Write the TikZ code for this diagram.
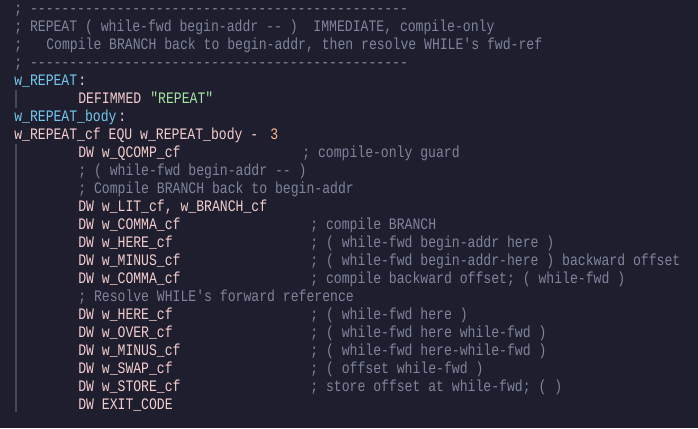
\documentclass[tikz,border=0pt]{standalone}
\usepackage{fontspec}
\setmonofont[FakeStretch=0.82]{Liberation Mono}
\definecolor{bg}{HTML}{1E1E2E}
\definecolor{cmt}{HTML}{7F849C}
\definecolor{lbl}{HTML}{74C7EC}
\definecolor{txt}{HTML}{F2CDCD}
\definecolor{str}{HTML}{A6E3A1}
\definecolor{num}{HTML}{FAB387}
\definecolor{pun}{HTML}{CDD6F4}
\definecolor{guide}{HTML}{45475A}
\tikzset{code/.style={anchor=base west,inner sep=0pt,font=\ttfamily\fontsize{12pt}{13.5pt}\selectfont}}
\newcommand{\seg}[5]{\node[code,text=#3] (#1) at ({10.5pt+#4*6pt},{-(13.5+18*#2)*0.75pt}) {#5};}
\begin{document}
\begin{tikzpicture}
\fill[bg] (0,0) rectangle (523.5pt,-321pt);
\useasboundingbox (0,0) rectangle (523.5pt,-321pt);
\draw[guide,line width=0.8pt] (12pt,-67.5pt) -- (12pt,-81pt);
\draw[guide,line width=0.8pt] (12pt,-108pt) -- (12pt,-309pt);
\seg{a0}{0}{cmt}{0}{; ------------------------------------------------}
\seg{a1}{1}{cmt}{0}{; REPEAT ( while-fwd begin-addr -- )\ \ IMMEDIATE, compile-only}
\seg{a2}{2}{cmt}{0}{;}
\seg{a2b}{2}{cmt}{4}{Compile BRANCH back to begin-addr, then resolve WHILE's fwd-ref}
\seg{a3}{3}{cmt}{0}{; ------------------------------------------------}
\seg{a4}{4}{lbl}{0}{w\_REPEAT}
\seg{a4c}{4}{pun}{8}{:}
\seg{a5}{5}{txt}{8}{DEFIMMED}
\seg{a5s}{5}{str}{17}{"REPEAT"}
\seg{a6}{6}{lbl}{0}{w\_REPEAT\_body}
\seg{a6c}{6}{pun}{13}{:}
\seg{a7}{7}{txt}{0}{w\_REPEAT\_cf EQU w\_REPEAT\_body -}
\seg{a7n}{7}{num}{32}{3}
\seg{a8}{8}{txt}{8}{DW w\_QCOMP\_cf}
\seg{a8c}{8}{cmt}{36}{; compile-only guard}
\seg{a9}{9}{cmt}{8}{; ( while-fwd begin-addr -- )}
\seg{a10}{10}{cmt}{8}{; Compile BRANCH back to begin-addr}
\seg{a11}{11}{txt}{8}{DW w\_LIT\_cf, w\_BRANCH\_cf}
\seg{a12}{12}{txt}{8}{DW w\_COMMA\_cf}
\seg{a12c}{12}{cmt}{37}{; compile BRANCH}
\seg{a13}{13}{txt}{8}{DW w\_HERE\_cf}
\seg{a13c}{13}{cmt}{37}{; ( while-fwd begin-addr here )}
\seg{a14}{14}{txt}{8}{DW w\_MINUS\_cf}
\seg{a14c}{14}{cmt}{37}{; ( while-fwd begin-addr-here ) backward offset}
\seg{a15}{15}{txt}{8}{DW w\_COMMA\_cf}
\seg{a15c}{15}{cmt}{37}{; compile backward offset; ( while-fwd )}
\seg{a16}{16}{cmt}{8}{; Resolve WHILE's forward reference}
\seg{a17}{17}{txt}{8}{DW w\_HERE\_cf}
\seg{a17c}{17}{cmt}{37}{; ( while-fwd here )}
\seg{a18}{18}{txt}{8}{DW w\_OVER\_cf}
\seg{a18c}{18}{cmt}{37}{; ( while-fwd here while-fwd )}
\seg{a19}{19}{txt}{8}{DW w\_MINUS\_cf}
\seg{a19c}{19}{cmt}{37}{; ( while-fwd here-while-fwd )}
\seg{a20}{20}{txt}{8}{DW w\_SWAP\_cf}
\seg{a20c}{20}{cmt}{37}{; ( offset while-fwd )}
\seg{a21}{21}{txt}{8}{DW w\_STORE\_cf}
\seg{a21c}{21}{cmt}{37}{; store offset at while-fwd; ( )}
\seg{a22}{22}{txt}{8}{DW EXIT\_CODE}
\end{tikzpicture}
\end{document}
